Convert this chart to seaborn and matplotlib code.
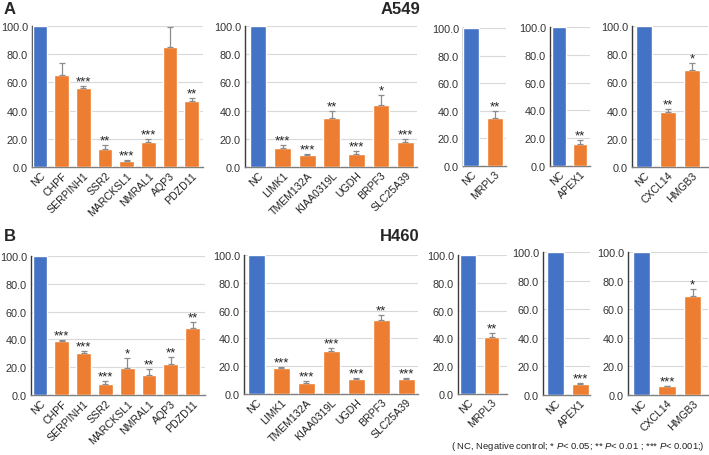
import matplotlib
matplotlib.use("Agg")
import matplotlib.pyplot as plt
import seaborn as sns
import numpy as np
import pandas as pd

sns.set_theme(style="white")
plt.rcParams['font.family'] = ['Liberation Sans', 'DejaVu Sans']
plt.rcParams['mathtext.fontset'] = 'custom'
plt.rcParams['mathtext.it'] = 'Liberation Sans:italic'
plt.rcParams['mathtext.rm'] = 'Liberation Sans'

# ---------------- data ----------------
genes_p1 = ["NC", "CHPF", "SERPINH1", "SSR2", "MARCKSL1", "NMRAL1", "AQP3", "PDZD11"]
genes_p2 = ["NC", "LIMK1", "TMEM132A", "KIAA0319L", "UGDH", "BRPF3", "SLC25A39"]
genes_p3 = ["NC", "MRPL3"]
genes_p4 = ["NC", "APEX1"]
genes_p5 = ["NC", "CXCL14", "HMGB3"]

# A549
a549_p1_vals = [100, 65, 56, 12.5, 4.5, 18, 85, 47]
a549_p1_errs = [0, 8.5, 1.5, 3, 0.5, 2, 14, 2]
a549_p1_sig = ["", "", "***", "**", "***", "***", "", "**"]
a549_p2_vals = [100, 13.5, 8.5, 35, 9.5, 44, 18]
a549_p2_errs = [0, 2, 1, 4.5, 1.5, 7, 2]
a549_p2_sig = ["", "***", "***", "**", "***", "*", "***"]
a549_p3_vals = [100, 35]
a549_p3_errs = [0, 5]
a549_p3_sig = ["", "**"]
a549_p4_vals = [100, 16]
a549_p4_errs = [0, 3]
a549_p4_sig = ["", "**"]
a549_p5_vals = [100, 39, 68.5]
a549_p5_errs = [0, 2, 5]
a549_p5_sig = ["", "**", "*"]

# H460
h460_p1_vals = [100, 38.5, 30, 8, 19.5, 14.5, 22.5, 48]
h460_p1_errs = [0, 1, 1.5, 2, 7, 4, 5, 4.5]
h460_p1_sig = ["", "***", "***", "***", "*", "**", "**", "**"]
h460_p2_vals = [100, 19, 8, 31, 10.5, 53.5, 10.5]
h460_p2_errs = [0, 0.5, 1.5, 2, 1, 3, 1]
h460_p2_sig = ["", "***", "***", "***", "***", "**", "***"]
h460_p3_vals = [100, 41]
h460_p3_errs = [0, 3]
h460_p3_sig = ["", "**"]
h460_p4_vals = [100, 8]
h460_p4_errs = [0, 0.5]
h460_p4_sig = ["", "***"]
h460_p5_vals = [100, 6, 69]
h460_p5_errs = [0, 0.5, 5]
h460_p5_sig = ["", "***", "*"]

yticks = [0, 20, 40, 60, 80, 100]

BLUE = "#4472C4"
ORANGE = "#ED7D31"

W, H = 709, 456
fig = plt.figure(figsize=(W / 100, H / 100), dpi=100)


def add_ax(x0, x1, ytop, ybot):
    return fig.add_axes([x0 / W, 1 - ybot / H, (x1 - x0) / W, (ybot - ytop) / H])


def panel(box, xlim, genes, vals, errs, sig):
    ax = add_ax(*box)
    df = pd.DataFrame({"gene": genes, "val": vals})
    pal = {g: (BLUE if g == "NC" else ORANGE) for g in genes}
    sns.barplot(data=df, x="gene", y="val", hue="gene", palette=pal, legend=False,
                width=0.68, saturation=1, ax=ax, zorder=3)
    idx = [i for i, e in enumerate(errs) if e > 0]
    ax.errorbar([i for i in idx], [vals[i] for i in idx],
                yerr=[[0] * len(idx), [errs[i] for i in idx]],
                fmt="none", ecolor="#8c8c8c", elinewidth=0.9, capsize=2.2,
                capthick=0.9, zorder=4, clip_on=False)
    for i, s in enumerate(sig):
        if s:
            ax.text(i, vals[i] + errs[i] - 1.0, s, ha="center", va="bottom",
                    fontsize=9.5, color="#222222", zorder=5)
    ax.set_ylim(0, 100)
    ax.set_xlim(*xlim)
    ax.set_yticks(yticks)
    ax.set_yticklabels([f"{t:.1f}" for t in yticks], fontsize=7.8, color="#333333")
    ax.set_xticks(range(len(genes)))
    ax.set_xticklabels(genes, rotation=45, ha="right", rotation_mode="anchor",
                       fontsize=7.6, color="#222222")
    ax.tick_params(axis="both", length=0, pad=2)
    ax.tick_params(axis="y", pad=3)
    ax.set_xlabel("")
    ax.set_ylabel("")
    ax.yaxis.grid(True, color="#d9d9d9", linewidth=0.8, zorder=0)
    ax.xaxis.grid(False)
    ax.set_axisbelow(True)
    for sp in ["top", "right"]:
        ax.spines[sp].set_visible(False)
    ax.spines["left"].set_color("#3a3a3a")
    ax.spines["left"].set_linewidth(1.0)
    ax.spines["bottom"].set_color("#7f7f7f")
    ax.spines["bottom"].set_linewidth(1.0)
    return ax


# Row A (A549)
panel((32, 203, 27, 168), (-0.37, 7.53), genes_p1, a549_p1_vals, a549_p1_errs, a549_p1_sig)
panel((245, 417, 27, 168), (-0.53, 6.47), genes_p2, a549_p2_vals, a549_p2_errs, a549_p2_sig)
panel((463, 506, 29, 167), (-0.36, 1.49), genes_p3, a549_p3_vals, a549_p3_errs, a549_p3_sig)
panel((550, 590, 28, 167), (-0.46, 1.49), genes_p4, a549_p4_vals, a549_p4_errs, a549_p4_sig)
panel((632, 708, 27, 168), (-0.5, 2.67), genes_p5, a549_p5_vals, a549_p5_errs, a549_p5_sig)

# Row B (H460)
panel((31, 205, 257, 396), (-0.41, 7.57), genes_p1, h460_p1_vals, h460_p1_errs, h460_p1_sig)
panel((244, 418, 256, 395), (-0.5, 6.48), genes_p2, h460_p2_vals, h460_p2_errs, h460_p2_sig)
panel((458, 507, 256, 395), (-0.43, 1.66), genes_p3, h460_p3_vals, h460_p3_errs, h460_p3_sig)
panel((543, 590, 253, 396), (-0.48, 1.4), genes_p4, h460_p4_vals, h460_p4_errs, h460_p4_sig)
panel((628, 708, 253, 396), (-0.53, 2.6), genes_p5, h460_p5_vals, h460_p5_errs, h460_p5_sig)

# headings
fig.text(4 / W, 1 - 10 / H, "A", fontsize=12, fontweight="bold", va="center", ha="left")
fig.text(4 / W, 1 - 237 / H, "B", fontsize=12, fontweight="bold", va="center", ha="left")
fig.text(400 / W, 1 - 9 / H, "A549", fontsize=12, fontweight="bold", va="center", ha="center")
fig.text(400 / W, 1 - 237 / H, "H460", fontsize=12, fontweight="bold", va="center", ha="center")

fig.text(705 / W, 1 - 447 / H,
         r"( NC, Negative control; * $P$< 0.05; ** $P$< 0.01 ; *** $P$< 0.001;)",
         fontsize=6.8, ha="right", va="center", color="#222222")

fig.savefig("out.png", dpi=100)
